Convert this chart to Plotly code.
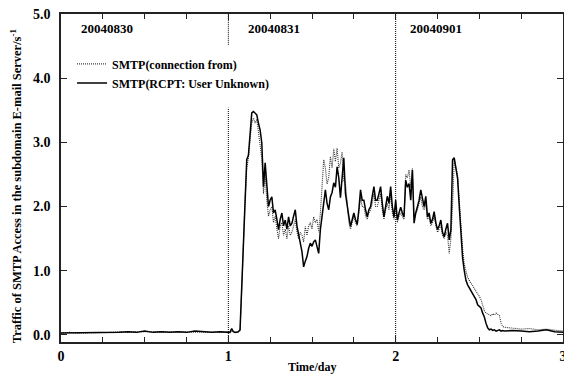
import plotly.graph_objects as go

# ---- time grid (days) ----
t_a = [round(0.05 * i, 2) for i in range(20)]          # 0.00 .. 0.95
t_b = [round(1.00 + 0.01 * i, 2) for i in range(166)]  # 1.00 .. 2.65
t_c = [round(2.70 + 0.05 * i, 2) for i in range(7)]    # 2.70 .. 3.00
time_days = t_a + t_b + t_c

# ---- SMTP(RCPT: User Unknown) (solid) ----
rcpt_a = [0.03, 0.03, 0.03, 0.03, 0.04, 0.03, 0.04, 0.04, 0.05, 0.04,
          0.06, 0.04, 0.05, 0.04, 0.05, 0.04, 0.06, 0.05, 0.04, 0.05]
rcpt_b = [
    0.04, 0.04, 0.10, 0.05, 0.04, 0.04, 0.05, 0.08, 0.80, 1.59,   # 1.00-1.09
    2.20, 2.73, 2.80, 3.20, 3.46, 3.48, 3.45, 3.43, 3.30, 3.19,   # 1.10-1.19
    2.99, 2.31, 2.68, 2.25, 2.00, 2.10, 2.15, 1.90, 1.95, 1.80,   # 1.20-1.29
    1.64, 1.80, 1.90, 1.70, 1.79, 1.65, 1.84, 1.70, 1.74, 1.85,   # 1.30-1.39
    1.95, 1.70, 1.59, 1.43, 1.30, 1.06, 1.15, 1.22, 1.35, 1.43,   # 1.40-1.49
    1.38, 1.45, 1.48, 1.35, 1.27, 1.64, 1.84, 2.10, 2.26, 2.05,   # 1.50-1.59
    1.95, 2.15, 2.22, 2.37, 2.30, 2.62, 2.45, 2.14, 2.50, 2.76,   # 1.60-1.69
    2.20, 2.00, 1.85, 1.69, 1.80, 1.90, 1.80, 1.72, 1.95, 2.26,   # 1.70-1.79
    2.10, 2.10, 1.95, 1.84, 1.95, 2.00, 2.16, 2.31, 2.10, 2.10,   # 1.80-1.89
    2.20, 2.31, 2.05, 1.84, 2.00, 2.16, 2.05, 2.31, 2.00, 1.84,   # 1.90-1.99
    2.10, 1.79, 1.90, 1.99, 1.90, 1.84, 2.41, 2.30, 2.36, 2.10,   # 2.00-2.09
    2.57, 1.74, 1.90, 2.00, 2.10, 2.26, 2.10, 2.00, 2.16, 1.84,   # 2.10-2.19
    1.90, 1.74, 1.80, 1.92, 1.75, 1.64, 1.70, 1.79, 1.60, 1.53,   # 2.20-2.29
    1.65, 1.74, 1.48, 1.64, 2.73, 2.76, 2.60, 2.44, 2.00, 1.59,   # 2.30-2.39
    1.20, 1.00, 0.85, 0.78, 0.73, 0.68, 0.64, 0.60, 0.55, 0.47,   # 2.40-2.49
    0.44, 0.42, 0.34, 0.28, 0.18, 0.11, 0.08, 0.09, 0.07, 0.08,   # 2.50-2.59
    0.06, 0.07, 0.08, 0.06, 0.07, 0.06,                           # 2.60-2.65
]
rcpt_c = [0.07, 0.06, 0.05, 0.06, 0.08, 0.05, 0.04]
rcpt_values = rcpt_a + rcpt_b + rcpt_c

# ---- SMTP(connection from) (dotted) ----
conn_a = [0.03, 0.04, 0.03, 0.03, 0.04, 0.04, 0.04, 0.05, 0.04, 0.05,
          0.05, 0.04, 0.05, 0.05, 0.04, 0.05, 0.05, 0.05, 0.05, 0.05]
conn_b = [
    0.04, 0.04, 0.06, 0.05, 0.04, 0.04, 0.05, 0.07, 0.70, 1.45,   # 1.00-1.09
    2.10, 2.60, 2.75, 3.05, 3.30, 3.38, 3.30, 3.36, 3.15, 3.00,   # 1.10-1.19
    2.75, 2.20, 2.50, 2.10, 1.85, 1.95, 2.00, 1.75, 1.85, 1.65,   # 1.20-1.29
    1.50, 1.70, 1.75, 1.55, 1.65, 1.50, 1.70, 1.55, 1.60, 1.70,   # 1.30-1.39
    1.80, 1.60, 1.50, 1.60, 1.55, 1.45, 1.69, 1.55, 1.70, 1.75,   # 1.40-1.49
    1.65, 1.84, 1.75, 1.80, 1.60, 1.90, 2.30, 2.73, 2.60, 2.35,   # 1.50-1.59
    2.45, 2.78, 2.60, 2.90, 2.70, 2.91, 2.60, 2.68, 2.85, 2.40,   # 1.60-1.69
    2.37, 2.10, 1.75, 1.65, 1.75, 1.85, 1.75, 1.70, 1.90, 2.15,   # 1.70-1.79
    2.00, 2.00, 1.85, 1.80, 1.90, 1.95, 2.05, 2.20, 2.00, 2.00,   # 1.80-1.89
    2.10, 2.20, 1.95, 1.80, 1.95, 2.05, 1.95, 2.20, 1.90, 1.80,   # 1.90-1.99
    2.00, 1.75, 1.85, 1.90, 1.85, 1.80, 2.50, 2.45, 2.57, 2.30,   # 2.00-2.09
    2.60, 1.85, 1.90, 1.95, 2.05, 2.15, 2.00, 1.95, 2.05, 1.80,   # 2.10-2.19
    1.85, 1.70, 1.75, 1.85, 1.70, 1.60, 1.65, 1.70, 1.55, 1.50,   # 2.20-2.29
    1.60, 1.55, 1.27, 1.50, 2.00, 2.73, 2.60, 2.50, 2.10, 1.70,   # 2.30-2.39
    1.35, 1.10, 0.98, 0.90, 0.85, 0.81, 0.78, 0.72, 0.70, 0.65,   # 2.40-2.49
    0.60, 0.55, 0.45, 0.38, 0.34, 0.33, 0.31, 0.30, 0.33, 0.31,   # 2.50-2.59
    0.34, 0.32, 0.30, 0.18, 0.13, 0.12,                           # 2.60-2.65
]
conn_c = [0.11, 0.09, 0.10, 0.08, 0.09, 0.08, 0.06]
conn_values = conn_a + conn_b + conn_c

assert len(rcpt_values) == len(time_days) == len(conn_values)

day_labels = ["20040830", "20040831", "20040901"]
day_label_x = [0.275, 1.27, 2.24]
y_tickvals = [0, 1, 2, 3, 4, 5]
y_ticktext = ["0.0", "1.0", "2.0", "3.0", "4.0", "5.0"]
x_tickvals = [0, 1, 2, 3]
x_ticktext = ["0", "1", "2", "3"]

SERIF = "Liberation Serif, Times New Roman, serif"
BOLD = lambda s: dict(family=SERIF, size=s, color="black", weight="bold")

fig = go.Figure()
fig.add_trace(go.Scatter(
    x=time_days, y=conn_values, mode="lines",
    name="SMTP(connection from)",
    line=dict(color="#333333", width=1.1, dash="1px,1px"),
))
fig.add_trace(go.Scatter(
    x=time_days, y=rcpt_values, mode="lines",
    name="SMTP(RCPT: User Unknown)",
    line=dict(color="black", width=1.5),
))

# day boundary dotted lines
line_style = dict(color="black", width=1, dash="1px,1px")
fig.add_shape(type="line", xref="x", yref="y", x0=1, x1=1, y0=4.52, y1=5.0, line=line_style, layer="below")
fig.add_shape(type="line", xref="x", yref="y", x0=1, x1=1, y0=-0.11, y1=3.54, line=line_style, layer="below")
fig.add_shape(type="line", xref="x", yref="y", x0=2, x1=2, y0=-0.11, y1=5.0, line=line_style, layer="below")

for lbl, xv in zip(day_labels, day_label_x):
    fig.add_annotation(x=xv, y=4.77, xref="x", yref="y", text=lbl, showarrow=False,
                       font=BOLD(13))

# axis titles as annotations for exact placement
fig.add_annotation(x=0.5, y=-0.076, xref="paper", yref="paper", text="Time/day",
                   showarrow=False, font=BOLD(12), xanchor="center", yanchor="middle")
fig.add_annotation(x=-0.0896, y=0.475, xref="paper", yref="paper",
                   text="Traffic of SMTP Access in the subdomain E-mail Server/s<sup>-1</sup>",
                   textangle=-90, showarrow=False, font=BOLD(12.5),
                   xanchor="center", yanchor="middle")

axis_common = dict(
    showline=True, linecolor="#222222", linewidth=1.5, mirror="ticks",
    ticks="inside", ticklen=6, tickcolor="#222222", tickwidth=1,
    showgrid=False, zeroline=False, automargin=False,
    ticklabeloverflow="allow",
    tickfont=BOLD(14),
)

fig.update_layout(
    width=564, height=374,
    margin=dict(l=61, r=1, t=14, b=32),
    paper_bgcolor="white", plot_bgcolor="white",
    showlegend=True,
    legend=dict(x=0.022, y=0.892, xanchor="left", yanchor="top",
                bgcolor="rgba(255,255,255,0)", borderwidth=0,
                font=BOLD(12), itemwidth=30, tracegroupgap=0),
    xaxis=dict(range=[0, 3], tickvals=x_tickvals, ticktext=x_ticktext,
               minor=dict(dtick=0.25, ticks="inside", ticklen=5, tickcolor="#222222"),
               **axis_common),
    yaxis=dict(range=[-0.11, 5.0], tickvals=y_tickvals, ticktext=y_ticktext,
               ticklabelstandoff=6, **axis_common),
)

fig.write_html("out.html", config={"displayModeBar": False})

# remove the browser's default body margin so the figure sits at the page origin
with open("out.html", "r", encoding="utf-8") as f:
    html = f.read()
html = html.replace("<body>", '<body style="margin:0;overflow:hidden">', 1)
with open("out.html", "w", encoding="utf-8") as f:
    f.write(html)
